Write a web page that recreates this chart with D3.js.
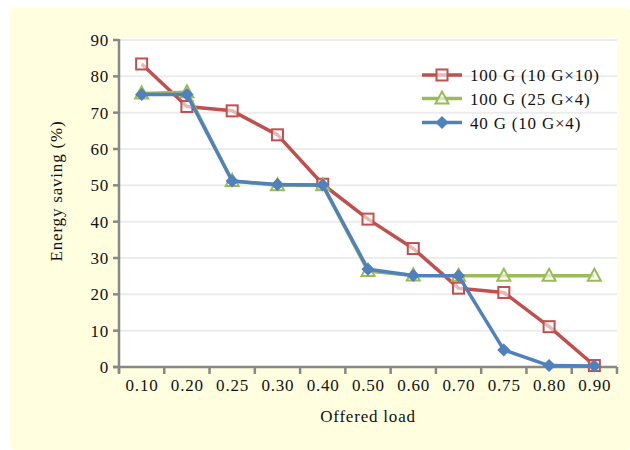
<!DOCTYPE html>
<html>
<head>
<meta charset="utf-8">
<script src="https://cdn.jsdelivr.net/npm/d3@7"></script>
<style>
  body { margin: 0; background: #fff; }
  text { font-family: "Liberation Serif", "Times New Roman", serif; fill: #111; letter-spacing: 0.8px; }
</style>
</head>
<body>
<div id="chart"></div>
<script>
// chart data
const loads = ["0.10", "0.20", "0.25", "0.30", "0.40", "0.50", "0.60", "0.70", "0.75", "0.80", "0.90"];
const saving100x10 = [83.4, 71.7, 70.5, 63.9, 50.3, 40.7, 32.6, 21.7, 20.5, 11.1, 0.4];
const saving25x4 = [75.3, 75.6, 51.2, 50.0, 50.0, 26.4, 25.2, 25.1, 25.1, 25.1, 25.1];
const saving40 = [75.0, 75.0, 51.2, 50.2, 50.1, 26.9, 25.2, 25.1, 4.7, 0.4, 0.3];
const seriesNames = ["100 G (10 G\u00d710)", "100 G (25 G\u00d74)", "40 G (10 G\u00d74)"];
const yTicks = [0, 10, 20, 30, 40, 50, 60, 70, 80, 90];

const W = 630, H = 450;
const plot = {left: 119, right: 617, top: 38, bottom: 367};

const svg = d3.select("#chart").append("svg")
    .attr("width", W).attr("height", H);

// yellow panel
svg.append("rect")
    .attr("x", 10).attr("y", 8)
    .attr("width", 620).attr("height", 442)
    .attr("rx", 4)
    .attr("fill", "#ffffe0");

// white plot area
svg.append("rect")
    .attr("x", plot.left).attr("y", plot.top)
    .attr("width", plot.right - plot.left).attr("height", plot.bottom - plot.top)
    .attr("fill", "#fff");

const x = d3.scaleBand().domain(loads).range([plot.left, plot.right]);
const y = d3.scaleLinear().domain([0, 90]).range([plot.bottom, 40]);
const cx = d => x(d) + x.bandwidth() / 2;

// grid lines
svg.append("g").selectAll("line")
    .data(yTicks.filter(t => t > 0))
    .join("line")
    .attr("x1", plot.left).attr("x2", plot.right)
    .attr("y1", d => y(d)).attr("y2", d => y(d))
    .attr("stroke", "#ececec")
    .attr("stroke-width", 2);

// y axis
let yAxis = svg.append("g");
yAxis.append("line")
    .attr("x1", plot.left).attr("x2", plot.left)
    .attr("y1", y(90) - 1).attr("y2", plot.bottom + 6)
    .attr("stroke", "#888").attr("stroke-width", 2.5);
yAxis.selectAll(".tk")
    .data(yTicks)
    .join("line")
    .attr("x1", plot.left - 6).attr("x2", plot.left)
    .attr("y1", d => y(d)).attr("y2", d => y(d))
    .attr("stroke", "#888").attr("stroke-width", 2.5);
yAxis.selectAll("text")
    .data(yTicks)
    .join("text")
    .attr("x", plot.left - 10)
    .attr("y", d => y(d) + 6)
    .attr("text-anchor", "end")
    .attr("font-size", 17)
    .text(d => d);

// x axis
let xAxis = svg.append("g");
let bounds = loads.map(d => x(d)).concat([x(loads[loads.length - 1]) + x.bandwidth()]);
xAxis.append("line")
    .attr("x1", plot.left - 6).attr("x2", plot.right)
    .attr("y1", plot.bottom).attr("y2", plot.bottom)
    .attr("stroke", "#888").attr("stroke-width", 2.5);
xAxis.selectAll(".tk")
    .data(bounds)
    .join("line")
    .attr("x1", d => d).attr("x2", d => d)
    .attr("y1", plot.bottom).attr("y2", plot.bottom + 7)
    .attr("stroke", "#888").attr("stroke-width", 2.5);
xAxis.selectAll("text")
    .data(loads)
    .join("text")
    .attr("x", d => cx(d) + 0.4)
    .attr("y", plot.bottom + 24)
    .attr("text-anchor", "middle")
    .attr("font-size", 17)
    .text(d => d);

// axis titles
svg.append("text")
    .attr("transform", "translate(62,191) rotate(-90)")
    .attr("text-anchor", "middle")
    .attr("font-size", 17)
    .text("Energy saving (%)");
svg.append("text")
    .attr("x", (plot.left + plot.right) / 2)
    .attr("y", 422)
    .attr("text-anchor", "middle")
    .attr("font-size", 17)
    .text("Offered load");

// series
const series = [
    {name: seriesNames[0], values: saving100x10, color: "#c0504d", marker: "square"},
    {name: seriesNames[1], values: saving25x4, color: "#9bbb59", marker: "triangle"},
    {name: seriesNames[2], values: saving40, color: "#4f81bd", marker: "diamond"}
];

function drawMarker(g, kind, color) {
    if (kind == "square") {
        g.append("rect")
            .attr("x", -5.5).attr("y", -5.5).attr("width", 11).attr("height", 11)
            .attr("fill", "#fff").attr("fill-opacity", 0.6)
            .attr("stroke", color).attr("stroke-width", 2);
    } else if (kind == "triangle") {
        g.append("path")
            .attr("d", "M0,-7L6.5,5L-6.5,5Z")
            .attr("fill", "#fff").attr("fill-opacity", 0.6)
            .attr("stroke", color).attr("stroke-width", 2);
    } else {
        g.append("path")
            .attr("d", "M0,-5.5L5.5,0L0,5.5L-5.5,0Z")
            .attr("fill", color)
            .attr("stroke", color).attr("stroke-width", 1.5);
    }
}

const line = d3.line().x((d, i) => cx(loads[i])).y(d => y(d));

// draw red, then green, then blue on top
series.forEach(s => {
    let g = svg.append("g");
    g.append("path")
        .attr("d", line(s.values))
        .attr("fill", "none")
        .attr("stroke", s.color)
        .attr("stroke-width", 3.5)
        .attr("stroke-linejoin", "round");
    s.values.forEach((v, i) => {
        let m = g.append("g").attr("transform", "translate(" + cx(loads[i]) + "," + y(v) + ")");
        drawMarker(m, s.marker, s.color);
    });
});

// legend
const legendRows = [75, 98.5, 122.5];
series.forEach((s, i) => {
    let g = svg.append("g").attr("transform", "translate(422," + legendRows[i] + ")");
    g.append("line")
        .attr("x1", 0).attr("x2", 40)
        .attr("stroke", s.color).attr("stroke-width", 3.5);
    let m = g.append("g").attr("transform", "translate(20,0)");
    drawMarker(m, s.marker, s.color);
    g.append("text")
        .attr("x", 48).attr("y", 6)
        .attr("font-size", 17)
        .text(s.name);
});
</script>
</body>
</html>
